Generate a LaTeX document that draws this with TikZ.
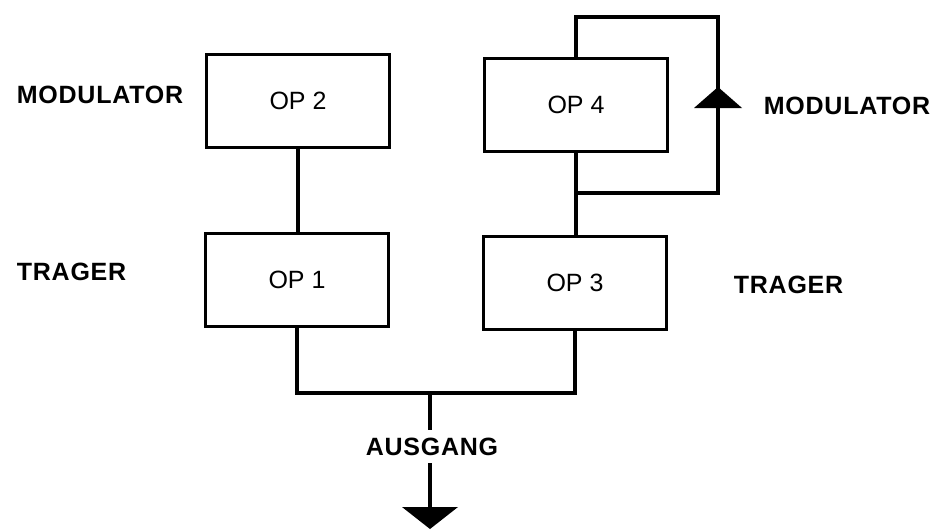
\documentclass[tikz,border=0pt]{standalone}
\usepackage{fontspec}
\setmainfont{Liberation Sans}
\begin{document}
\begin{tikzpicture}[x=1pt,y=-1pt,line width=3.8pt,
  opbox/.style={draw, minimum width=183pt, minimum height=93pt, inner sep=0pt, font=\fontsize{25}{28}\selectfont},
  lbl/.style={inner sep=0pt, anchor=west, font=\bfseries\fontsize{25}{28}\selectfont\addfontfeature{LetterSpace=3}},
  tip/.style={fill=black, draw=none}]
\useasboundingbox (0,0) rectangle (933,530);
% boxes
\node[opbox] (op2) at (298,101) {OP 2};
\node[opbox] (op1) at (297,280) {OP 1};
\node[opbox] (op4) at (576,105) {OP 4};
\node[opbox] (op3) at (575,283) {OP 3};
% labels
\node[lbl] (lmod) at (15,95) {MODULATOR};
\node[lbl] (ltr) at (15,272) {TRAGER};
\node[lbl] (rmod) at (762,106) {MODULATOR};
\node[lbl] (rtr) at (732,285) {TRAGER};
\node[lbl, anchor=center] (aus) at (432,447) {AUSGANG};
% connectors
\draw (op2.south) -- (op2.south |- op1.north);
\draw (op4.south) -- (op4.south |- op3.north);
\coordinate (fbtop) at (718,17);
\coordinate (fbbot) at (718,193);
\draw (op4.north) |- (fbtop) -- (fbbot) -- (op4.south |- fbbot);
\fill[tip] (718,87) -- (694,108) -- (742,108) -- cycle;
\coordinate (bus) at (430,393);
\draw (op1.south) |- (bus) -| (op3.south);
\draw (bus) -- (bus |- 0,430);
\coordinate (outend) at (430,508);
\draw (outend |- 0,463) -- (outend);
\fill[tip] (402,507) -- (458,507) -- (430,529) -- cycle;
\end{tikzpicture}
\end{document}
